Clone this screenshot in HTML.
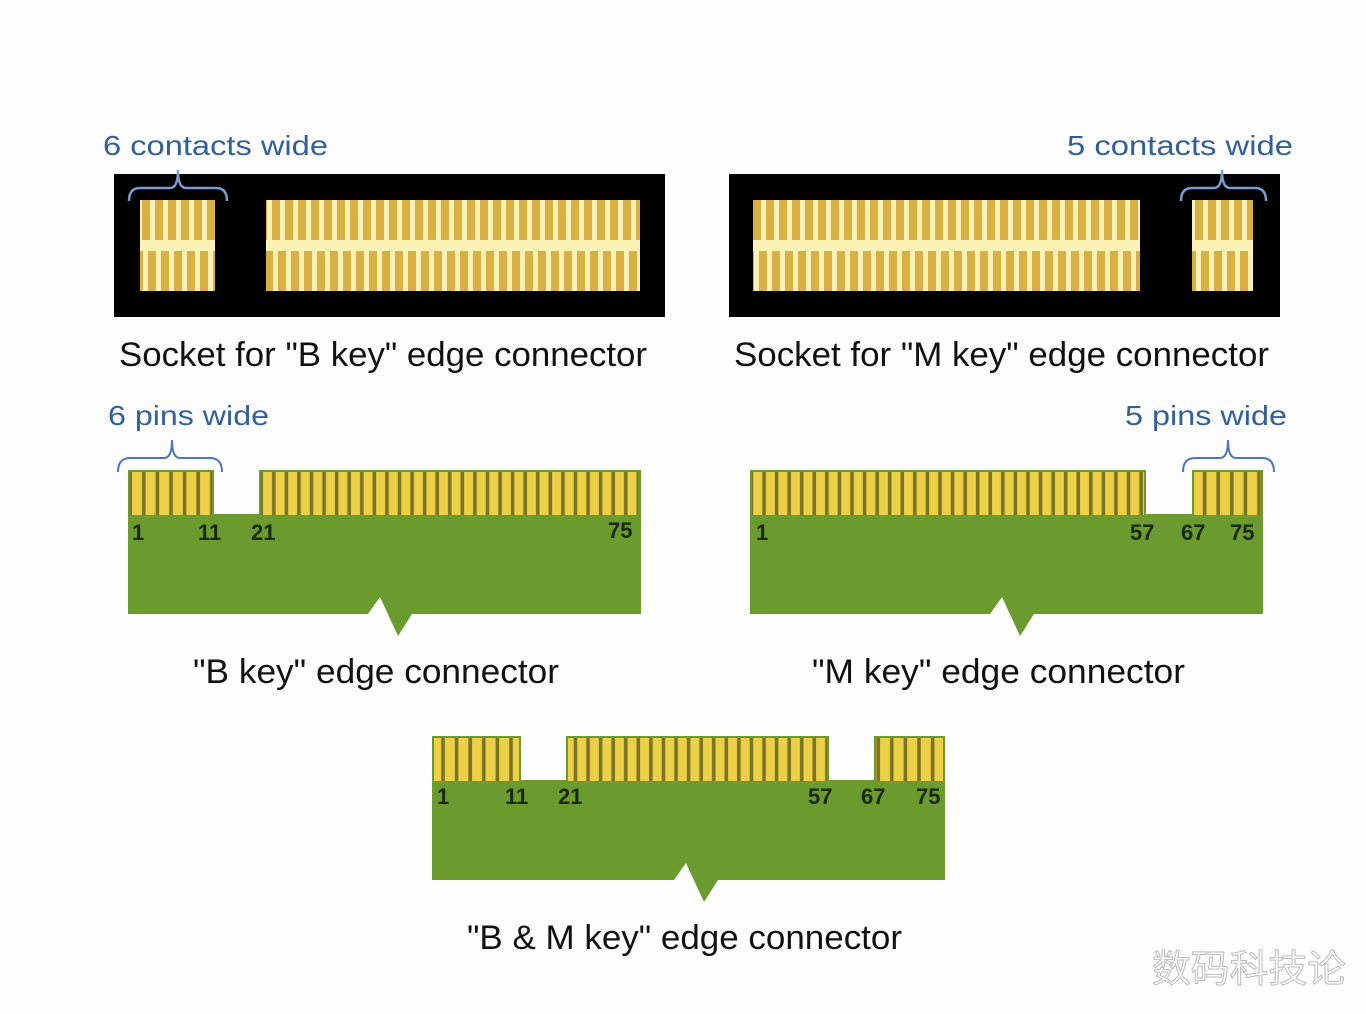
<!DOCTYPE html>
<html><head><meta charset="utf-8"><style>
html,body{margin:0;padding:0;background:#fdfdfd;}
svg{display:block;}
text{font-family:"Liberation Sans",sans-serif;}
</style></head><body>
<svg width="1366" height="1014" viewBox="0 0 1366 1014" xmlns="http://www.w3.org/2000/svg">
<defs>
<pattern id="fB" x="130" y="0" width="13.6" height="50" patternUnits="userSpaceOnUse"><rect x="0" y="0" width="13.6" height="50" fill="#7a7424"/><rect x="2" y="0" width="10" height="50" fill="#ecd048"/></pattern>
<pattern id="fB2" x="261" y="0" width="12.57" height="50" patternUnits="userSpaceOnUse"><rect x="0" y="0" width="12.57" height="50" fill="#7a7424"/><rect x="2" y="0" width="9" height="50" fill="#ecd048"/></pattern>
<pattern id="cT" x="140" y="0" width="13" height="50" patternUnits="userSpaceOnUse"><rect width="13" height="50" fill="#fbf1b4"/><rect x="2" y="0" width="8" height="50" fill="#d8b044"/></pattern>
<pattern id="cB" x="146" y="0" width="13" height="50" patternUnits="userSpaceOnUse"><rect width="13" height="50" fill="#fbf1b4"/><rect x="2" y="0" width="8" height="50" fill="#d8b044"/></pattern>
</defs>
<rect width="1366" height="1014" fill="#fdfdfd"/>

<!-- Sockets -->
<text x="103" y="155" font-size="28" fill="#34609a" textLength="225" lengthAdjust="spacingAndGlyphs">6 contacts wide</text>
<text x="1067" y="155" font-size="28" fill="#34609a" textLength="226" lengthAdjust="spacingAndGlyphs">5 contacts wide</text>

<rect x="114" y="174" width="551" height="143" fill="#000"/>
<rect x="729" y="174" width="551" height="143" fill="#000"/>
<path d="M129 201 Q129 188 140 188 L170 188 Q178 188 178 170 Q178 188 186 188 L216 188 Q227 188 227 201" fill="none" stroke="#7a9cd0" stroke-width="2.5"/>
<path d="M1181 201 Q1181 188 1192 188 L1214 188 Q1222 188 1222 170 Q1222 188 1230 188 L1255 188 Q1266 188 1266 201" fill="none" stroke="#7a9cd0" stroke-width="2.5"/>
<g>
<rect x="140" y="200" width="75" height="40" fill="url(#cT)"/><rect x="140" y="240" width="75" height="11" fill="#fbf1b4"/><rect x="140" y="251" width="75" height="40" fill="url(#cB)"/>
<rect x="266" y="200" width="374" height="40" fill="url(#cT)"/><rect x="266" y="240" width="374" height="11" fill="#fbf1b4"/><rect x="266" y="251" width="374" height="40" fill="url(#cB)"/>
<rect x="753" y="200" width="387" height="40" fill="url(#cT)"/><rect x="753" y="240" width="387" height="11" fill="#fbf1b4"/><rect x="753" y="251" width="387" height="40" fill="url(#cB)"/>
<rect x="1192" y="200" width="61" height="40" fill="url(#cT)"/><rect x="1192" y="240" width="61" height="11" fill="#fbf1b4"/><rect x="1192" y="251" width="61" height="40" fill="url(#cB)"/>
</g>
<text x="119" y="366" font-size="34" fill="#111" textLength="528" lengthAdjust="spacingAndGlyphs">Socket for "B key" edge connector</text>
<text x="734" y="366" font-size="34" fill="#111" textLength="535" lengthAdjust="spacingAndGlyphs">Socket for "M key" edge connector</text>

<!-- B key -->
<text x="108" y="425" font-size="28" fill="#34609a" textLength="161" lengthAdjust="spacingAndGlyphs">6 pins wide</text>
<text x="1125" y="425" font-size="28" fill="#34609a" textLength="162" lengthAdjust="spacingAndGlyphs">5 pins wide</text>
<path d="M118 472 Q118 458 130 458 L164 458 Q172 458 172 440 Q172 458 180 458 L210 458 Q222 458 222 472" fill="none" stroke="#4a78b8" stroke-width="2"/>
<path d="M1183 472 Q1183 458 1195 458 L1220 458 Q1228 458 1228 440 Q1228 458 1236 458 L1262 458 Q1274 458 1274 472" fill="none" stroke="#4a78b8" stroke-width="2"/>

<path d="M128 470 H214 V514 H259 V470 H641 V614 H412 L398 636 L380 597 L368 614 H128 Z" fill="#6b9a2e"/>
<rect x="130" y="472" width="82" height="43" fill="url(#fB)"/>
<rect x="261" y="472" width="377" height="43" fill="url(#fB2)"/>
<g font-size="22" font-weight="bold" fill="#1a2a10">
<text x="132" y="540">1</text><text x="198" y="540">11</text><text x="251" y="540">21</text><text x="608" y="538">75</text>
</g>
<text x="193" y="683" font-size="34" fill="#111" textLength="366" lengthAdjust="spacingAndGlyphs">"B key" edge connector</text>

<!-- M key -->
<path d="M750 470 H1146 V514 H1192 V470 H1263 V614 H1034 L1020 636 L1002 597 L990 614 H750 Z" fill="#6b9a2e"/>
<rect x="752" y="472" width="392" height="43" fill="url(#fB2)"/>
<rect x="1194" y="472" width="67" height="43" fill="url(#fB)"/>
<g font-size="22" font-weight="bold" fill="#1a2a10">
<text x="756" y="540">1</text><text x="1130" y="540">57</text><text x="1181" y="540">67</text><text x="1230" y="540">75</text>
</g>
<text x="812" y="683" font-size="34" fill="#111" textLength="373" lengthAdjust="spacingAndGlyphs">"M key" edge connector</text>

<!-- B & M key -->
<path d="M432 736 H521 V780 H566 V736 H829 V780 H874 V736 H945 V880 H718 L704 902 L686 863 L674 880 H432 Z" fill="#6b9a2e"/>
<rect x="434" y="738" width="85" height="43" fill="url(#fB)"/>
<rect x="568" y="738" width="259" height="43" fill="url(#fB2)"/>
<rect x="876" y="738" width="67" height="43" fill="url(#fB)"/>
<g font-size="22" font-weight="bold" fill="#1a2a10">
<text x="437" y="804">1</text><text x="505" y="804">11</text><text x="558" y="804">21</text><text x="808" y="804">57</text><text x="861" y="804">67</text><text x="916" y="804">75</text>
</g>
<text x="467" y="949" font-size="34" fill="#111" textLength="435" lengthAdjust="spacingAndGlyphs">"B &amp; M key" edge connector</text>

<text x="1152" y="982" font-size="38" fill="#ffffff" stroke="#bbb" stroke-width="1" textLength="194" lengthAdjust="spacingAndGlyphs" style="font-family:'Liberation Sans','Noto Sans CJK SC',sans-serif">数码科技论</text>
</svg>
</body></html>
